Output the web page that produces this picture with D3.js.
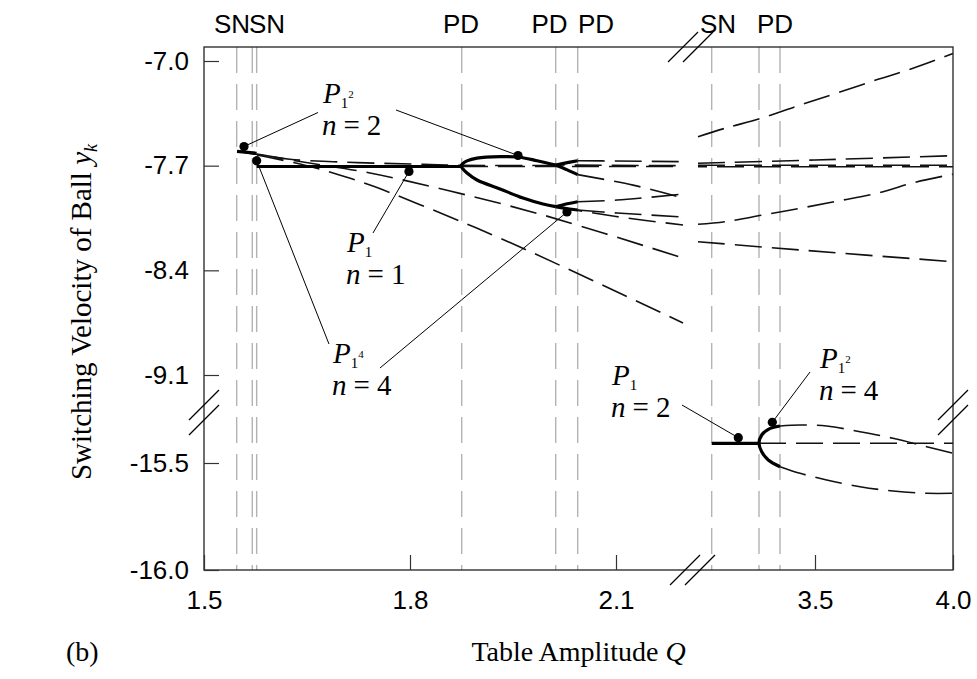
<!DOCTYPE html>
<html>
<head>
<meta charset="utf-8">
<script src="https://cdn.jsdelivr.net/npm/d3@7"></script>
<style>
  body { margin: 0; background: #fff; }
  svg { display: block; }
</style>
</head>
<body>
<div id="viz"></div>
<script>
// tick values for the two x pieces and the two y pieces of the broken axes
const xTicksLeft = [1.5, 1.8, 2.1];
const xTicksRight = [3.5, 4.0];
const yTicksUpper = [-7.0, -7.7, -8.4, -9.1];
const yTicksLower = [-15.5, -16.0];

// bifurcation values of Q (grey dashed verticals) and their names on top
const bifurcationQ = [1.5476, 1.5703, 1.5767, 1.8753, 2.0122, 2.0442, 3.1257, 3.2971, 3.3732];
const bifurcationNames = ['SN', 'SN', 'PD', 'PD', 'PD', 'SN', 'PD'];
const bifurcationNameQ = [1.5408, 1.5918, 1.8743, 2.0031, 2.0709, 3.1486, 3.3551];

// stable branches [Q, y_k]  (thick solid)
const stableBranches = [
  [[1.5481, -7.604], [1.5767, -7.617]],
  [[1.5767, -7.7056], [1.8743, -7.7056]],
  [[2.0122, -7.6955], [1.9850, -7.6668], [1.9573, -7.6420], [1.9311, -7.6400], [1.8976, -7.650],
   [1.8830, -7.668], [1.8772, -7.685], [1.8743, -7.7022], [1.8772, -7.722], [1.8830, -7.749],
   [1.8976, -7.7959], [1.9311, -7.8560], [1.9646, -7.9163], [1.9937, -7.9564], [2.0122, -7.9744]],
  [[2.0122, -7.6955], [2.0290, -7.680], [2.0442, -7.6668]],
  [[2.0122, -7.6955], [2.0290, -7.728], [2.0442, -7.760]],
  [[2.0122, -7.9744], [2.0290, -7.955], [2.0442, -7.941]],
  [[2.0122, -7.9744], [2.0290, -7.988], [2.0442, -7.9965]],
  [[3.1257, -15.4079], [3.2971, -15.4079]],
  [[3.3732, -15.3271], [3.3308, -15.3425], [3.3069, -15.3692], [3.2971, -15.4079],
   [3.3069, -15.4472], [3.3308, -15.4860], [3.3732, -15.5173]]
];

// unstable branches [Q, y_k]  (thin dashed)
const unstableBranches = [
  [[1.5481, -7.604], [1.5816, -7.6287], [1.6252, -7.6574], [1.6879, -7.6735], [1.7563, -7.6842],
   [1.8200, -7.6910], [1.8743, -7.6975], [2.0122, -7.6990]],
  [[1.5772, -7.6220], [1.6398, -7.6721], [1.7417, -7.7490], [1.8583, -7.8694], [1.9937, -8.0299], [2.1976, -8.3175]],
  [[1.5772, -7.6287], [1.6398, -7.6889], [1.6879, -7.7490], [1.7417, -7.8293], [1.8583, -8.0433],
   [1.9602, -8.2440], [2.1976, -8.7522]],
  [[1.8743, -7.7056], [2.1976, -7.7056]],
  [[2.0122, -7.6955], [2.1976, -7.7000]],
  [[2.0122, -7.9744], [2.1000, -8.0400], [2.1976, -8.0968]],
  [[2.0442, -7.6668], [2.1000, -7.6690], [2.1976, -7.6735]],
  [[2.0442, -7.7600], [2.1248, -7.8300], [2.1976, -7.9162]],
  [[2.0442, -7.9410], [2.1015, -7.9300], [2.1976, -7.8895]],
  [[2.0442, -7.9965], [2.1015, -8.0166], [2.1976, -8.0433]],
  [[3.0761, -7.5063], [3.1739, -7.4501], [3.3116, -7.3792], [3.4457, -7.2943], [3.5833, -7.2120],
   [3.7283, -7.1224], [3.8551, -7.0488], [4.0, -6.9500]],
  [[3.0761, -7.6842], [3.5000, -7.6620], [4.0, -7.6333]],
  [[3.0761, -7.6975], [4.0, -7.6975]],
  [[3.0761, -7.7069], [4.0, -7.7069]],
  [[3.0761, -8.0921], [3.1739, -8.0747], [3.3116, -8.0299], [3.4457, -7.9851], [3.5833, -7.9363],
   [3.7246, -7.8848], [3.8551, -7.8150], [4.0, -7.7570]],
  [[3.0761, -8.2085], [3.4457, -8.2640], [4.0, -8.3423]],
  [[3.2971, -15.4079], [4.0, -15.4079]],
  [[3.3732, -15.3271], [3.4457, -15.3224], [3.5424, -15.3271], [3.6630, -15.3537], [3.7826, -15.3846],
   [3.9047, -15.4238], [4.0, -15.4547]],
  [[3.3732, -15.5173], [3.4457, -15.5481], [3.5424, -15.5794], [3.6630, -15.6107], [3.7826, -15.6308],
   [3.9047, -15.6416], [4.0, -15.6416]]
];

// marked orbits (black dots)
const markedPoints = [
  [1.5583, -7.5718], [1.5767, -7.6668], [1.7985, -7.739], [1.9573, -7.632],
  [2.0286, -8.0099], [3.2221, -15.3818], [3.3453, -15.3098]
];

// orbit labels: P_{1^sup} over "n = ...", with leader lines to the dots
const orbitLabels = [
  {sup: '2', n: '2', at: [1.6733, -7.2809],
   leaders: [[[1.5583, -7.5718], [1.6660, -7.3444]], [[1.7796, -7.3277], [1.9573, -7.632]]]},
  {sup: '', n: '1', at: [1.7083, -8.2774],
   leaders: [[[1.7461, -8.1503], [1.7985, -7.739]]]},
  {sup: '4', n: '4', at: [1.6879, -9.0197],
   leaders: [[[1.6820, -8.8927], [1.5767, -7.6668]], [[1.7563, -9.0532], [2.0286, -8.0099]]]},
  {sup: '', n: '2', at: [2.0942, -15.1355],
   leaders: [[[2.1961, -15.2290], [3.2221, -15.3818]]]},
  {sup: '2', n: '4', at: [3.5181, -15.0561],
   leaders: [[[3.4819, -15.0748], [3.3453, -15.3098]]]}
];

const W = 977, H = 679;
const plot = {left: 204, right: 953, top: 47, bottom: 570};
const sans = 'Liberation Sans, Arial, Helvetica, sans-serif';
const serif = 'Liberation Serif, Times New Roman, serif';

const xL = d3.scaleLinear().domain([1.5, 2.1]).range([plot.left, 616]);
const xR = d3.scaleLinear().domain([3.5, 4.0]).range([815, plot.right]);
const yU = d3.scaleLinear().domain([-9.1, -7.0]).range([375, 61]);
const yLo = d3.scaleLinear().domain([-16.0, -15.5]).range([plot.bottom, 463]);
const px = q => q < 2.6 ? xL(q) : xR(q);
const py = v => v > -12 ? yU(v) : yLo(v);

// where each piece stops / starts across the breaks
const xBreaks = [px(2.1976), px(3.0761)];
const yBreaks = [py(-9.3006), py(-15.2991)];

const svg = d3.select('#viz').append('svg')
  .attr('width', W).attr('height', H);

// grey bifurcation lines
svg.append('g').selectAll('line')
  .data(bifurcationQ)
  .enter().append('line')
  .attr('x1', d => px(d)).attr('x2', d => px(d))
  .attr('y1', plot.top).attr('y2', plot.bottom)
  .attr('stroke', '#b3b3b3').attr('stroke-width', 1.4)
  .attr('stroke-dasharray', '26,11');

const line = d3.line()
  .x(d => px(d[0])).y(d => py(d[1]))
  .curve(d3.curveCatmullRom.alpha(0.5));

svg.append('g').selectAll('path')
  .data(unstableBranches)
  .enter().append('path')
  .attr('d', line)
  .attr('fill', 'none').attr('stroke', '#111').attr('stroke-width', 1.6)
  .attr('stroke-dasharray', '27,10')
  .attr('stroke-dashoffset', (d, i) => (i === 4 || i === 13) ? 18 : 0);

svg.append('g').selectAll('path')
  .data(stableBranches)
  .enter().append('path')
  .attr('d', line)
  .attr('fill', 'none').attr('stroke', '#000').attr('stroke-width', 3.2);

svg.append('g').selectAll('circle')
  .data(markedPoints)
  .enter().append('circle')
  .attr('cx', d => px(d[0])).attr('cy', d => py(d[1]))
  .attr('r', 4.6).attr('fill', '#000');

// leader lines
svg.append('g').selectAll('line')
  .data(orbitLabels.flatMap(o => o.leaders))
  .enter().append('line')
  .attr('x1', d => px(d[0][0])).attr('y1', d => py(d[0][1]))
  .attr('x2', d => px(d[1][0])).attr('y2', d => py(d[1][1]))
  .attr('stroke', '#000').attr('stroke-width', 1);

// orbit label texts (two lines in one text element)
const lab = svg.append('g').attr('font-family', serif).attr('fill', '#000');
orbitLabels.forEach(o => {
  const x = px(o.at[0]);
  const t = lab.append('text')
    .attr('x', x).attr('y', py(o.at[1]))
    .attr('font-size', 29);
  t.append('tspan').attr('font-style', 'italic').text('P');
  t.append('tspan').attr('font-size', 15).attr('dy', 5).text('1');
  let back = 5;
  if (o.sup) {
    t.append('tspan').attr('font-size', 11).attr('dy', -10).text(o.sup);
    back = -5;
  }
  t.append('tspan').attr('x', x - 1).attr('dy', 32 - back).attr('font-style', 'italic').text('n');
  t.append('tspan').attr('dx', 7).text('=');
  t.append('tspan').attr('dx', 7).text(o.n);
});

// frame
svg.append('rect')
  .attr('x', plot.left).attr('y', plot.top)
  .attr('width', plot.right - plot.left).attr('height', plot.bottom - plot.top)
  .attr('fill', 'none').attr('stroke', '#222').attr('stroke-width', 1.3);

// axes with inward ticks
const fmt = d => d.toFixed(1);
function styleAxis(g) {
  g.select('.domain').remove();
  g.attr('font-size', 26).attr('font-family', sans);
  g.selectAll('.tick line').attr('stroke', '#333').attr('stroke-width', 1.2);
  g.selectAll('.tick text').attr('fill', '#000');
}
svg.append('g').attr('transform', `translate(0,${plot.bottom})`)
  .call(d3.axisBottom(xL).tickValues(xTicksLeft).tickSize(-15).tickPadding(21).tickFormat(fmt))
  .call(styleAxis);
svg.append('g').attr('transform', `translate(0,${plot.bottom})`)
  .call(d3.axisBottom(xR).tickValues(xTicksRight).tickSize(-15).tickPadding(21).tickFormat(fmt))
  .call(styleAxis);
svg.append('g').attr('transform', `translate(${plot.left},0)`)
  .call(d3.axisLeft(yU).tickValues(yTicksUpper).tickSize(-15).tickPadding(15).tickFormat(fmt))
  .call(styleAxis);
svg.append('g').attr('transform', `translate(${plot.left},0)`)
  .call(d3.axisLeft(yLo).tickValues(yTicksLower).tickSize(-15).tickPadding(15).tickFormat(fmt))
  .call(styleAxis);

// break marks
const slashes = [
  ...xBreaks.map(x => [x, plot.top]),
  ...xBreaks.map(x => [x + 2, plot.bottom]),
  ...yBreaks.map(y => [plot.left, y]),
  ...yBreaks.map(y => [plot.right, y])
];
svg.append('g').selectAll('line')
  .data(slashes)
  .enter().append('line')
  .attr('x1', d => d[0] - 15).attr('y1', d => d[1] + 15)
  .attr('x2', d => d[0] + 15).attr('y2', d => d[1] - 15)
  .attr('stroke', '#000').attr('stroke-width', 1.2);

// bifurcation names along the top
svg.append('g').selectAll('text')
  .data(bifurcationNames)
  .enter().append('text')
  .attr('x', (d, i) => px(bifurcationNameQ[i])).attr('y', 33)
  .attr('text-anchor', 'middle')
  .attr('font-family', sans).attr('font-size', 26)
  .text(d => d);

// axis titles
const xt = svg.append('text')
  .attr('x', (plot.left + plot.right) / 2).attr('y', 661)
  .attr('text-anchor', 'middle')
  .attr('font-family', serif).attr('font-size', 28);
xt.append('tspan').text('Table Amplitude ');
xt.append('tspan').attr('font-style', 'italic').text('Q');

svg.append('text')
  .attr('x', 66).attr('y', 661)
  .attr('font-family', serif).attr('font-size', 28)
  .text('(b)');

const yt = svg.append('text')
  .attr('transform', 'translate(91,312) rotate(-90)')
  .attr('text-anchor', 'middle')
  .attr('font-family', serif).attr('font-size', 29);
yt.append('tspan').text('Switching Velocity of Ball ');
yt.append('tspan').attr('font-style', 'italic').text('y');
yt.append('tspan').attr('font-style', 'italic').attr('font-size', 18).attr('dy', 6).text('k');
</script>
</body>
</html>
